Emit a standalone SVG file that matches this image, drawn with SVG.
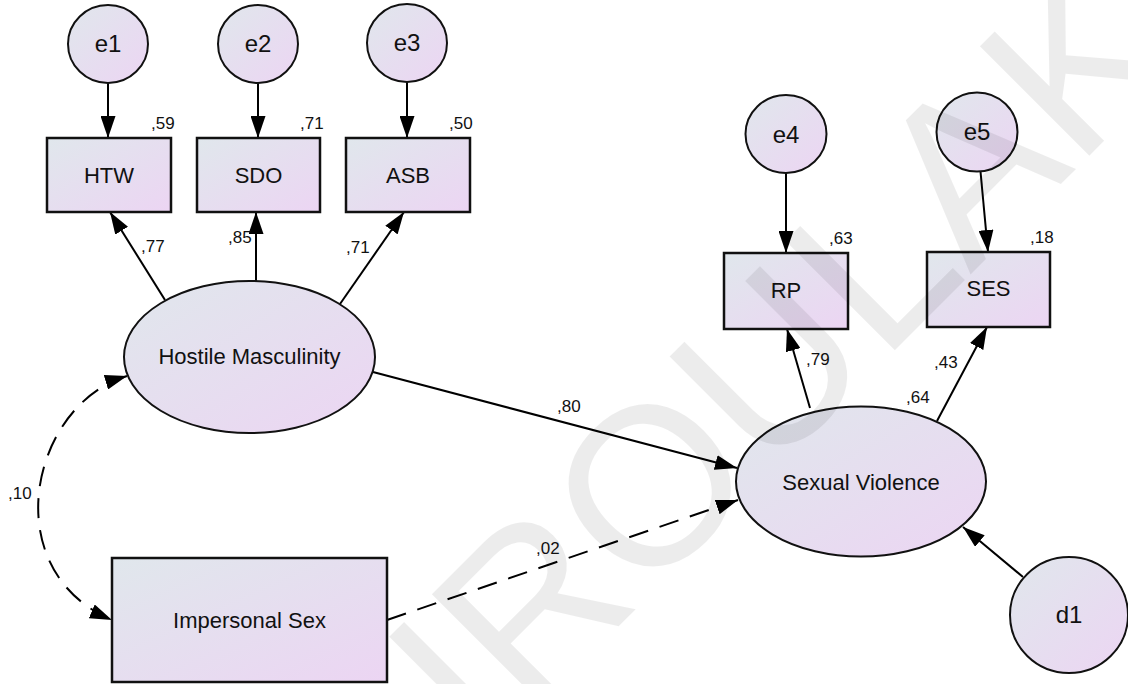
<svg xmlns="http://www.w3.org/2000/svg" width="1128" height="684" viewBox="0 0 1128 684">
  <defs>
    <linearGradient id="fill" x1="0" y1="0" x2="1" y2="1">
      <stop offset="0" stop-color="#e0e7ec"/>
      <stop offset="1" stop-color="#ecd5f3"/>
    </linearGradient>
    <marker id="ah" viewBox="0 0 22 15" refX="22" refY="7.5" markerWidth="22" markerHeight="15" markerUnits="userSpaceOnUse" orient="auto-start-reverse">
      <path d="M0,0 L22,7.5 L0,15 z" fill="#000"/>
    </marker>
    <style>
      .obs { fill: url(#fill); stroke: #111; stroke-width: 2.5; }
      .lat { fill: url(#fill); stroke: #111; stroke-width: 2; }
      .lbl { font-family: "Liberation Sans", Arial, sans-serif; font-size: 22px; fill: #111; text-anchor: middle; }
      .err { font-size: 24px; }
      .est { font-family: "Liberation Sans", Arial, sans-serif; font-size: 17px; fill: #111; }
      .path { fill: none; stroke: #000; stroke-width: 2; marker-end: url(#ah); }
      .dash { stroke-dasharray: 20 12; }
      .wm { font-family: "Liberation Sans", Arial, sans-serif; font-size: 225px; fill: #000; fill-opacity: 0.075; }
    </style>
  </defs>
  <rect width="1128" height="684" fill="#fff"/>

  <!-- paths and covariances -->
  <g id="connectors">
    <line class="path" x1="108" y1="83" x2="108" y2="138"/>
    <line class="path" x1="258" y1="83" x2="258" y2="138"/>
    <line class="path" x1="407" y1="82" x2="407" y2="138"/>
    <line class="path" x1="786" y1="173" x2="786" y2="253"/>
    <line class="path" x1="980.5" y1="171.5" x2="988" y2="252"/>
    <line class="path" x1="165" y1="300" x2="110" y2="212"/>
    <line class="path" x1="256" y1="281" x2="256" y2="212"/>
    <line class="path" x1="340" y1="304" x2="404" y2="212"/>
    <line class="path" x1="373" y1="372" x2="737" y2="468"/>
    <line class="path dash" x1="387" y1="620" x2="738" y2="500"/>
    <line class="path" x1="810" y1="408" x2="787" y2="329"/>
    <line class="path" x1="937" y1="421" x2="987" y2="327"/>
    <line class="path" x1="1023" y1="577" x2="963" y2="527"/>
    <path class="path dash" d="M127,376 C30,405 -5,570 112,620" marker-start="url(#ah)"/>
  </g>

  <!-- coefficient labels -->
  <g id="estimates" class="est">
    <text x="151" y="129">,59</text>
    <text x="300" y="129">,71</text>
    <text x="449" y="129">,50</text>
    <text x="141" y="252">,77</text>
    <text x="228" y="243">,85</text>
    <text x="346" y="253">,71</text>
    <text x="829" y="244">,63</text>
    <text x="1030" y="243">,18</text>
    <text x="806" y="365">,79</text>
    <text x="934" y="368">,43</text>
    <text x="906" y="403">,64</text>
    <text x="557" y="412">,80</text>
    <text x="536" y="554">,02</text>
    <text x="8" y="499">,10</text>
  </g>

  <g id="e1"><ellipse class="lat" cx="108" cy="44" rx="40" ry="39"/><text class="lbl err" x="108" y="52">e1</text></g>
  <g id="e2"><ellipse class="lat" cx="258" cy="44" rx="40" ry="39"/><text class="lbl err" x="258" y="52">e2</text></g>
  <g id="e3"><ellipse class="lat" cx="407" cy="43" rx="40" ry="39"/><text class="lbl err" x="407" y="51">e3</text></g>
  <g id="HTW"><rect class="obs" x="47" y="138" width="124" height="74"/><text class="lbl" x="109" y="183">HTW</text></g>
  <g id="SDO"><rect class="obs" x="197" y="138" width="123" height="74"/><text class="lbl" x="258.5" y="183">SDO</text></g>
  <g id="ASB"><rect class="obs" x="346" y="138" width="124" height="74"/><text class="lbl" x="408" y="183">ASB</text></g>
  <g id="e4"><ellipse class="lat" cx="786" cy="134" rx="40.5" ry="39"/><text class="lbl err" x="786" y="143">e4</text></g>
  <g id="e5"><ellipse class="lat" cx="977" cy="132" rx="40.5" ry="39.5"/><text class="lbl err" x="977" y="140">e5</text></g>
  <g id="RP"><rect class="obs" x="724" y="253" width="124" height="76"/><text class="lbl" x="786" y="298">RP</text></g>
  <g id="SES"><rect class="obs" x="927" y="252" width="123" height="75"/><text class="lbl" x="988.5" y="296">SES</text></g>
  <g id="HostileMasculinity"><ellipse class="lat" cx="249.5" cy="357" rx="125.5" ry="76"/><text class="lbl" x="249.5" y="364">Hostile Masculinity</text></g>
  <g id="ImpersonalSex"><rect class="obs" x="112" y="558" width="275" height="124"/><text class="lbl" x="249.5" y="628">Impersonal Sex</text></g>
  <g id="SexualViolence"><ellipse class="lat" cx="861" cy="481.5" rx="125" ry="75"/><text class="lbl" x="861" y="490">Sexual Violence</text></g>
  <g id="d1"><ellipse class="lat" cx="1069" cy="615" rx="59" ry="58"/><text class="lbl err" x="1069" y="623">d1</text></g>

  <!-- watermark -->
  <text class="wm" transform="translate(484,761) rotate(-45)">IROULAK</text>
</svg>
